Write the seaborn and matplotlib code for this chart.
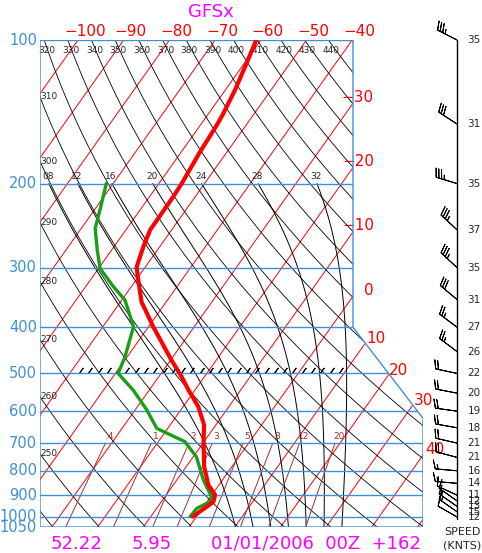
import numpy as np
import pandas as pd
import seaborn as sns
import matplotlib
matplotlib.use('Agg')
import matplotlib.pyplot as plt
from matplotlib.patches import Polygon

sns.set_style('white')
plt.rcParams['font.family'] = ['DejaVu Sans']

# --- sounding ---
temp_pres = [100, 112, 127, 144, 151, 172, 200, 213, 250, 271, 299, 313, 354, 399,
             469, 508, 542, 587, 641, 695, 784, 857, 899, 929, 952, 998]
temp_c = [-61.0, -59.5, -57.9, -56.7, -56.4, -55.9, -55.0, -54.8, -54.7, -53.6, -51.9,
          -50.2, -45.4, -39.0, -29.8, -25.0, -21.4, -16.7, -12.6, -10.1, -6.1, -2.3,
          0.7, 1.4, 0.7, -0.8]
dew_pres = [200, 227, 248, 276, 301, 329, 351, 399, 461, 500, 542, 597, 652, 695,
            748, 836, 907, 929, 959, 998]
dew_c = [-71.5, -68.8, -67.0, -63.1, -59.7, -53.9, -49.3, -43.3, -40.5, -39.4, -33.5,
         -27.4, -22.4, -14.2, -9.3, -4.2, 0.2, 0.6, -1.2, -1.4]

# --- winds ---
wind_pres = [100, 150, 200, 250, 300, 350, 400, 450, 500, 550, 600, 650, 700, 750,
             800, 850, 900, 925, 950, 975, 1000]
wind_spd = [35, 31, 35, 37, 35, 31, 27, 26, 22, 20, 19, 18, 21, 21, 16, 14, 11, 12, 13, 15, 12]
wind_dir = [297, 303, 287, 313, 313, 310, 307, 307, 282, 281, 278, 280, 283, 285,
            275, 275, 295, 305, 305, 305, 300]

# --- diagram labels ---
isobars = [100, 200, 300, 400, 500, 600, 700, 800, 900, 1000, 1050]
top_isotherms = [-100, -90, -80, -70, -60, -50, -40]
side_isotherms = [-30, -20, -10, 0, 10, 20, 30, 40]
theta_top = [320, 330, 340, 350, 360, 370, 380, 390, 400, 410, 420, 430, 440]
theta_left = [310, 300, 290, 280, 270, 260, 250]
theta_w = [8, 12, 16, 20, 24, 28, 32]
mix_ratios = [0.4, 1, 2, 3, 5, 8, 12, 20]
mix_labels = ['.4', '1', '2', '3', '5', '8', '12', '20']

SKEW = 32.2
X_LEFT, X_RIGHT_TOP, X_RIGHT = -34.18, 34.31, 49.63
BLUE = '#3f8fd6'
BROWN = '#993333'


def skew_x(t, p):
    return np.asarray(t) + SKEW * np.log(1000.0 / np.asarray(p))


def sat_vp(tc):
    return 6.112 * np.exp(17.67 * tc / (tc + 243.5))


def moist_profile(tw, p_levels):
    # integrate pseudo-adiabat from 1000 hPa
    Rd, cp, Lv, eps = 287.04, 1005.7, 2.501e6, 0.622

    def dtdp(t, p):
        es = sat_vp(t - 273.15)
        rs = eps * es / (p - es)
        return (Rd * t + Lv * rs) / (p * (cp + Lv ** 2 * rs * eps / (Rd * t ** 2)))

    out = {}
    for target in (p_levels[p_levels <= 1000][::-1], p_levels[p_levels > 1000]):
        t, p = tw + 273.15, 1000.0
        for pt in target:
            n = 20
            h = (pt - p) / n
            for _ in range(n):
                k1 = dtdp(t, p)
                k2 = dtdp(t + 0.5 * h * k1, p + 0.5 * h)
                k3 = dtdp(t + 0.5 * h * k2, p + 0.5 * h)
                k4 = dtdp(t + h * k3, p + h)
                t += h / 6 * (k1 + 2 * k2 + 2 * k3 + k4)
                p += h
            out[pt] = t - 273.15
    return np.array([out[pp] for pp in p_levels])


fig = plt.figure(figsize=(4.82, 5.53), dpi=100)
bottom = (553 - 527.1) / 553
height = (527.1 - 40) / 553
ax = fig.add_axes([40 / 482, bottom, 383 / 482, height])
ax.set_yscale('log')
ax.set_xlim(X_LEFT, X_RIGHT)
ax.set_ylim(1050, 100)
ax.axis('off')

frame = Polygon([(X_LEFT, 100), (X_RIGHT_TOP, 100), (X_RIGHT_TOP, 400), (X_RIGHT, 621),
                 (X_RIGHT, 1050), (X_LEFT, 1050)], closed=True, fill=False,
                edgecolor=BLUE, lw=1.0, transform=ax.transData, zorder=6)
ax.add_patch(frame)


def clipped(lines):
    for ln in lines:
        ln.set_clip_path(frame)


# isobars
for p in isobars:
    clipped(ax.plot([X_LEFT, X_RIGHT], [p, p], color=BLUE, lw=1.0, zorder=5))
    ax.annotate(str(p), xy=(0, p), xycoords=('axes fraction', 'data'),
                xytext=(-3, 0), textcoords='offset pixels', ha='right', va='center',
                color=BLUE, fontsize=10.5, annotation_clip=False)

# isotherms
p_line = np.logspace(np.log10(100), np.log10(1050), 60)
p_fine = np.logspace(np.log10(100), np.log10(1050), 3000)
frame_path = frame.get_path()
for t in range(-130, 70, 10):
    clipped(ax.plot(skew_x(np.full_like(p_line, t), p_line), p_line,
                    color='red', lw=0.7, zorder=2))
for t in top_isotherms:
    ax.annotate(f'\u2212{abs(t)}', xy=(skew_x(t, 100), 100), xytext=(7, 9),
                textcoords='offset pixels', ha='center', va='center',
                color='red', fontsize=11, annotation_clip=False)
for t in side_isotherms:
    if t <= 0:
        p_hit = np.exp(np.log(1000) - (X_RIGHT_TOP - t) / SKEW)
        txt = f'\u2212{abs(t)}' if t < 0 else '0'
        ax.annotate(txt, xy=(X_RIGHT_TOP, p_hit), xytext=(21, 6),
                    textcoords='offset pixels', ha='right', va='center',
                    color='red', fontsize=11, annotation_clip=False)
    else:
        # first point where the isotherm is inside the frame (coming from the top)
        xs = skew_x(np.full_like(p_fine, t), p_fine)
        inside = frame_path.contains_points(np.column_stack([xs, p_fine]), radius=-1e-9)
        idx = np.argmax(inside)
        ax.annotate(str(t), xy=(xs[idx], p_fine[idx]), xytext=(2, 6),
                    textcoords='offset pixels', ha='left', va='center',
                    color='red', fontsize=11, annotation_clip=False)

# dry adiabats
for th in range(230, 470, 10):
    tc = th * (p_line / 1000.0) ** 0.2857 - 273.15
    clipped(ax.plot(skew_x(tc, p_line), p_line, color='black', lw=0.6, zorder=3))
for th in theta_top:
    tc = th * 0.1 ** 0.2857 - 273.15
    ax.annotate(str(th), xy=(skew_x(tc, 100), 100), xytext=(3, -10),
                textcoords='offset pixels', ha='center', va='center', fontsize=6.5)
for th in theta_left:
    tc = th * (p_line / 1000.0) ** 0.2857 - 273.15
    xs = skew_x(tc, p_line)
    p_hit = np.interp(X_LEFT, xs, p_line)
    ax.annotate(str(th), xy=(X_LEFT, p_hit), xytext=(0, 0), textcoords='offset pixels',
                ha='left', va='center', fontsize=6.5)

# saturated adiabats
p_moist = np.logspace(np.log10(200), np.log10(1050), 40)
for tw in theta_w:
    tc = moist_profile(tw, p_moist)
    clipped(ax.plot(skew_x(tc, p_moist), p_moist, color='black', lw=0.7, zorder=3))
    ax.annotate(f'{tw:02d}', xy=(skew_x(tc[0], 200), 200), xytext=(-1, 7),
                textcoords='offset pixels', ha='center', va='center', fontsize=6.5)

# mixing ratio lines
p_mix = np.linspace(700, 1050, 20)
for w, lab in zip(mix_ratios, mix_labels):
    e = w * p_mix / (622.0 + w)
    lnr = np.log(e / 6.112)
    td = 243.5 * lnr / (17.67 - lnr)
    clipped(ax.plot(skew_x(td, p_mix), p_mix, color=BROWN, lw=0.7, zorder=3))
    ax.annotate(lab, xy=(skew_x(td[0], 700), 700), xytext=(4, 7),
                textcoords='offset pixels', ha='center', va='center',
                color=BROWN, fontsize=6.5)

# hatch marks along 500 hPa
hatch_x = np.arange(-25.2, 32.0, 2.03)
ax.plot(hatch_x, np.full_like(hatch_x, 491), ls='none', marker=(2, 2, -35),
        markersize=4.5, markeredgewidth=0.7, color='black', zorder=4)

# sounding curves
df_t = pd.DataFrame({'p': temp_pres, 'X': skew_x(temp_c, temp_pres)})
df_d = pd.DataFrame({'p': dew_pres, 'X': skew_x(dew_c, dew_pres)})
sns.lineplot(data=df_d, x='X', y='p', sort=False, estimator=None, color='#17a017',
             lw=2.4, ax=ax, zorder=8)
sns.lineplot(data=df_t, x='X', y='p', sort=False, estimator=None, color='#ff0000',
             lw=3.0, ax=ax, zorder=9)
ax.set_xlim(X_LEFT, X_RIGHT)
ax.set_ylim(1050, 100)
ax.axis('off')

# wind barbs
ax2 = fig.add_axes([430 / 482, bottom, 52 / 482, height])
ax2.set_yscale('log')
ax2.set_xlim(0, 52)
ax2.set_ylim(1050, 100)
ax2.axis('off')
ax2.plot([27, 27], [100, 1008], color='black', lw=1.0)
wd = np.radians(wind_dir)
u = -np.array(wind_spd) * np.sin(wd)
v = -np.array(wind_spd) * np.cos(wd)
ax2.barbs(np.full(len(wind_pres), 27), wind_pres, u, v, length=5.6, lw=0.7,
          sizes=dict(spacing=0.13, height=0.4), clip_on=False)
for p, s in zip(wind_pres, wind_spd):
    ax2.text(44, p, str(s), ha='center', va='center', fontsize=7.5)

fig.text(462 / 482, 1 - 532 / 553, 'SPEED', ha='center', va='center', fontsize=8)
fig.text(462 / 482, 1 - 545 / 553, '(KNTS)', ha='center', va='center', fontsize=8)

# titles
fig.text(211 / 482, 1 - 12 / 553, 'GFSx', ha='center', va='center', color='magenta',
         fontsize=13)
fig.text(76 / 482, 1 - 544 / 553, '52.22', ha='center', va='center', color='magenta',
         fontsize=13)
fig.text(152 / 482, 1 - 544 / 553, '5.95', ha='center', va='center', color='magenta',
         fontsize=13)
fig.text(316 / 482, 1 - 544 / 553, '01/01/2006  00Z  +162', ha='center', va='center',
         color='magenta', fontsize=13)

fig.savefig('out.png', dpi=100)
